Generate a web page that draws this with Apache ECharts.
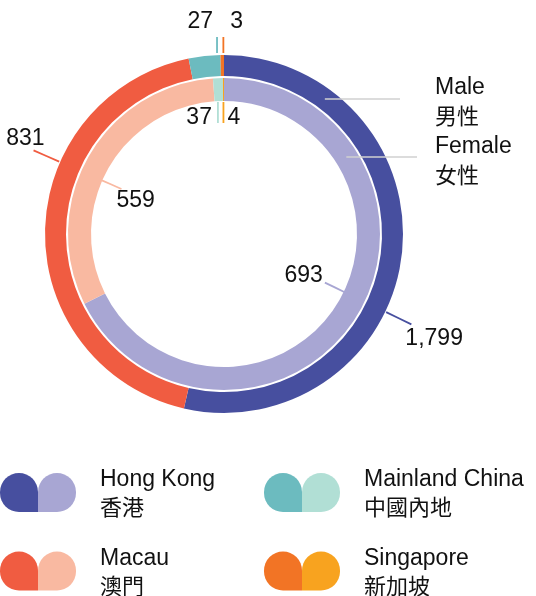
<!DOCTYPE html>
<html>
<head>
<meta charset="utf-8">
<script src="https://cdn.jsdelivr.net/npm/echarts@6/dist/echarts.min.js"></script>
<style>html,body{margin:0;padding:0;background:#fff}#c{width:536px;height:596px}</style>
</head>
<body>
<div id="c"></div>
<script>
// ---- data ----
const categoriesEn = ['Hong Kong', 'Macau', 'Mainland China', 'Singapore'];
const categoriesZh = ['香港', '澳門', '中國內地', '新加坡'];
const maleValues = [1799, 831, 27, 3];
const femaleValues = [693, 559, 37, 4];
const ringNamesEn = ['Male', 'Female'];
const ringNamesZh = ['男性', '女性'];

// ---- styles ----
const darkColors = ['#474f9f', '#f05c41', '#6cbbbf', '#f27425'];
const lightColors = ['#a8a6d3', '#f9b9a1', '#b1dfd5', '#f8a31f'];
const CX = 224, CY = 234;
const OUTER = [158, 179], INNER = [133, 156];
const LATIN = '"Liberation Sans", Arial, sans-serif';
const CJK = '"Noto Sans CJK TC", sans-serif';
const TXT = '#111';
const SHIFT = -6; // label angle tweak for large slices

const sum = a => a.reduce((s, v) => s + v, 0);
function midAngles(vals) {
  const t = sum(vals); let c = 0;
  return vals.map(v => { const m = (c + v / 2) / t * 360; c += v; return m; });
}
const labelMid = midAngles(maleValues);
function pt(r, deg) { const a = deg * Math.PI / 180; return [CX + r * Math.sin(a), CY - r * Math.cos(a)]; }
const fmt = v => v.toLocaleString('en-US');
const isBig = i => maleValues[i] / sum(maleValues) > 0.05;
const mid2 = (s, e) => [(s[0] + e[0]) / 2, (s[1] + e[1]) / 2];

function outerLayout(p) {
  const i = p.dataIndex;
  if (isBig(i)) {
    const a = labelMid[i] + SHIFT;
    const s = pt(OUTER[1] + 1, a), e = pt(208, a);
    const right = Math.sin(a * Math.PI / 180) > 0;
    return { x: right ? e[0] - 6 : e[0] + 11, y: right ? e[1] + 14 : e[1] - 12,
      align: right ? 'left' : 'right', verticalAlign: 'middle', labelLinePoints: [s, mid2(s, e), e] };
  }
  const x = pt(OUTER[1], labelMid[i])[0];
  const s = [x, CY - OUTER[1] - 2], e = [x, CY - OUTER[1] - 18];
  const toLeft = i < maleValues.length - 1;
  return { x: toLeft ? x - 4 : x + 7, y: e[1] - 15, align: toLeft ? 'right' : 'left',
    verticalAlign: 'middle', labelLinePoints: [s, mid2(s, e), e] };
}
function innerLayout(p) {
  const i = p.dataIndex;
  if (isBig(i)) {
    const a = labelMid[i] + SHIFT;
    const s = pt(INNER[0] + 1, a), e = pt(112, a);
    const right = Math.sin(a * Math.PI / 180) > 0;
    return { x: right ? e[0] - 2 : e[0] - 5, y: right ? e[1] - 7 : e[1] + 12,
      align: right ? 'right' : 'left', verticalAlign: 'middle', labelLinePoints: [s, mid2(s, e), e] };
  }
  const x = pt(INNER[1], labelMid[i])[0];
  const s = [x, CY - INNER[0] + 1], e = [x, CY - 111];
  const toLeft = i < maleValues.length - 1;
  return { x: toLeft ? x - 6 : x + 4, y: e[1] - 5, align: toLeft ? 'right' : 'left',
    verticalAlign: 'middle', labelLinePoints: [s, mid2(s, e), e] };
}

const ringBase = { type: 'pie', center: [CX, CY], startAngle: 90, clockwise: true, silent: true,
  animation: false, avoidLabelOverlap: false };

// As drawn in the reference: the outer (Male) ring's arcs follow the female shares,
// the inner ring's arcs follow the male shares.
const series = [
  Object.assign({}, ringBase, {
    radius: OUTER, label: { show: false }, labelLine: { show: false },
    data: femaleValues.map((v, i) => ({ value: v, name: categoriesEn[i], itemStyle: { color: darkColors[i], borderWidth: 0 } }))
  }),
  Object.assign({}, ringBase, {
    radius: INNER, label: { show: false }, labelLine: { show: false },
    data: maleValues.map((v, i) => ({ value: v, name: categoriesEn[i], itemStyle: { color: lightColors[i], borderWidth: 0 } }))
  }),
  Object.assign({}, ringBase, {
    radius: OUTER, itemStyle: { color: 'rgba(0,0,0,0)', borderWidth: 0 },
    label: { show: true, position: 'outside', formatter: p => fmt(maleValues[p.dataIndex]),
      fontSize: 23, fontFamily: LATIN, color: TXT },
    labelLine: { show: true, length: 10, length2: 10, lineStyle: { width: 1.8 } },
    labelLayout: outerLayout,
    data: maleValues.map((v, i) => ({ value: v, name: categoriesEn[i], labelLine: { lineStyle: { color: darkColors[i], width: 1.8 } } }))
  }),
  Object.assign({}, ringBase, {
    radius: INNER, itemStyle: { color: 'rgba(0,0,0,0)', borderWidth: 0 },
    label: { show: true, position: 'outside', formatter: p => fmt(femaleValues[p.dataIndex]),
      fontSize: 23, fontFamily: LATIN, color: TXT },
    labelLine: { show: true, length: 10, length2: 10, lineStyle: { width: 1.8 } },
    labelLayout: innerLayout,
    data: maleValues.map((v, i) => ({ value: v, name: categoriesEn[i], labelLine: { lineStyle: { color: lightColors[i], width: 1.8 } } }))
  })
];

// ring annotations (Male / Female)
const annY = [99, 157], annEnd = [400, 417], ringMid = [(OUTER[0] + OUTER[1]) / 2, (INNER[0] + INNER[1]) / 2];
const textTop = [88, 147];
const graphics = [];
ringNamesEn.forEach((n, k) => {
  const dy = CY - annY[k];
  const x0 = CX + Math.sqrt(ringMid[k] * ringMid[k] - dy * dy);
  graphics.push({ type: 'line', shape: { x1: x0, y1: annY[k], x2: annEnd[k], y2: annY[k] }, style: { stroke: '#d0d0d0', lineWidth: 1.5 }, z: 10 });
  graphics.push({ type: 'text', x: 435, y: textTop[k], style: { text: n, font: '23px ' + LATIN, fill: TXT, verticalAlign: 'middle' } });
  graphics.push({ type: 'text', x: 435, y: textTop[k] + 28, style: { text: ringNamesZh[k], font: '22px ' + CJK, fill: TXT, verticalAlign: 'middle' } });
});
// legend
categoriesEn.forEach((en, i) => {
  const col = Math.floor(i / 2), row = i % 2;
  const x0 = col * 264, y0 = 473 + row * 78.5;
  graphics.push({ type: 'rect', shape: { x: x0, y: y0, width: 38, height: 39, r: [19, 19, 0, 19] }, style: { fill: darkColors[i] } });
  graphics.push({ type: 'rect', shape: { x: x0 + 38, y: y0, width: 38, height: 39, r: [19, 19, 19, 0] }, style: { fill: lightColors[i] } });
  graphics.push({ type: 'text', x: x0 + 100, y: y0 + 7, style: { text: en, font: '23px ' + LATIN, fill: TXT, verticalAlign: 'middle' } });
  graphics.push({ type: 'text', x: x0 + 100, y: y0 + 34, style: { text: categoriesZh[i], font: '22px ' + CJK, fill: TXT, verticalAlign: 'middle' } });
});

const chart = echarts.init(document.getElementById('c'), null, { renderer: 'canvas' });
chart.setOption({ animation: false, backgroundColor: '#fff', series: series, graphic: graphics });
</script>
</body>
</html>
